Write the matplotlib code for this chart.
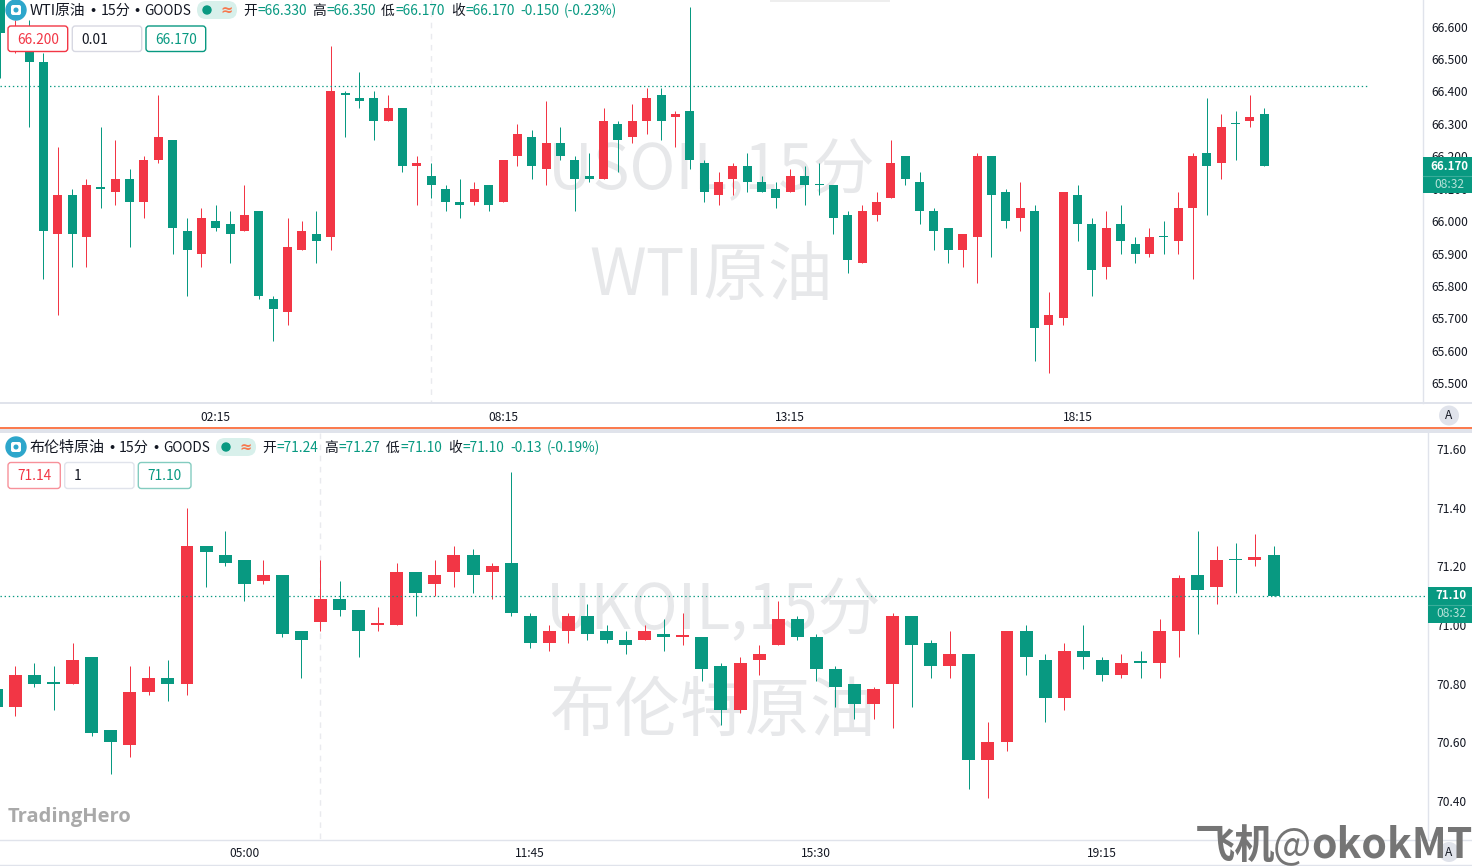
import matplotlib
matplotlib.use("Agg")
import matplotlib.pyplot as plt
import numpy as np
from matplotlib.patches import Circle, FancyBboxPatch, Rectangle

plt.rcParams['font.family'] = ['Noto Sans CJK SC', 'DejaVu Sans']

W, H = 1472, 866
UP = '#f23645'
DOWN = '#089981'
INK = '#131722'
LINE = '#e0e3eb'
MARK = '#e7e8ea'

# WTI 15 minute candles
wti_open = [66.72, 66.55, 66.56, 66.49, 65.96, 66.08, 65.95, 66.10, 66.09, 66.13,
            66.06, 66.19, 66.25, 65.97, 65.90, 66.00, 65.99, 65.97, 66.03, 65.76,
            65.72, 65.91, 65.96, 65.95, 66.39, 66.38, 66.38, 66.31, 66.35, 66.17,
            66.14, 66.10, 66.06, 66.06, 66.11, 66.06, 66.20, 66.26, 66.16, 66.24,
            66.19, 66.14, 66.13, 66.30, 66.26, 66.31, 66.39, 66.32, 66.34, 66.18,
            66.08, 66.13, 66.17, 66.12, 66.10, 66.09, 66.14, 66.11, 66.11, 66.02,
            65.87, 66.02, 66.07, 66.20, 66.12, 66.03, 65.98, 65.91, 65.95, 66.20,
            66.09, 66.01, 66.03, 65.68, 65.70, 66.08, 65.99, 65.86, 65.99, 65.93,
            65.90, 65.95, 65.94, 66.04, 66.21, 66.18, 66.30, 66.31, 66.33]
wti_high = [66.80, 66.62, 66.62, 66.52, 66.23, 66.10, 66.13, 66.29, 66.25, 66.16,
            66.20, 66.39, 66.25, 66.01, 66.04, 66.05, 66.03, 66.11, 66.03, 65.77,
            66.01, 66.00, 66.03, 66.54, 66.40, 66.46, 66.40, 66.39, 66.35, 66.20,
            66.18, 66.11, 66.13, 66.12, 66.11, 66.19, 66.30, 66.28, 66.37, 66.29,
            66.20, 66.21, 66.35, 66.31, 66.36, 66.41, 66.41, 66.34, 66.66, 66.19,
            66.15, 66.18, 66.21, 66.14, 66.12, 66.16, 66.17, 66.18, 66.11, 66.03,
            66.05, 66.09, 66.25, 66.20, 66.15, 66.04, 65.98, 65.96, 66.21, 66.20,
            66.10, 66.12, 66.05, 65.78, 66.09, 66.11, 66.01, 66.03, 66.05, 65.95,
            65.98, 66.00, 66.09, 66.21, 66.38, 66.33, 66.34, 66.39, 66.35]
wti_low = [66.44, 66.52, 66.29, 65.82, 65.71, 65.86, 65.86, 66.04, 66.05, 65.92,
           66.01, 66.18, 65.90, 65.77, 65.86, 65.97, 65.87, 65.97, 65.76, 65.63,
           65.68, 65.91, 65.87, 65.91, 66.26, 66.35, 66.25, 66.31, 66.15, 66.05,
           66.07, 66.03, 66.01, 66.05, 66.03, 66.06, 66.17, 66.13, 66.11, 66.19,
           66.03, 66.12, 66.13, 66.15, 66.24, 66.27, 66.25, 66.23, 66.16, 66.06,
           66.05, 66.08, 66.09, 66.09, 66.04, 66.09, 66.05, 66.08, 65.96, 65.84,
           65.87, 66.00, 66.07, 66.11, 65.99, 65.91, 65.87, 65.86, 65.81, 65.89,
           65.98, 65.97, 65.57, 65.53, 65.68, 65.94, 65.77, 65.82, 65.90, 65.87,
           65.89, 65.90, 65.90, 65.82, 66.02, 66.13, 66.19, 66.29, 66.17]
wti_close = [66.58, 66.58, 66.49, 65.97, 66.08, 65.96, 66.11, 66.10, 66.13, 66.06,
             66.19, 66.26, 65.98, 65.91, 66.01, 65.98, 65.96, 66.02, 65.77, 65.73,
             65.92, 65.97, 65.94, 66.40, 66.39, 66.37, 66.31, 66.35, 66.17, 66.18,
             66.11, 66.06, 66.05, 66.10, 66.05, 66.19, 66.27, 66.17, 66.24, 66.20,
             66.13, 66.13, 66.31, 66.25, 66.31, 66.38, 66.31, 66.33, 66.19, 66.09,
             66.12, 66.17, 66.12, 66.09, 66.07, 66.14, 66.11, 66.11, 66.01, 65.88,
             66.03, 66.06, 66.18, 66.13, 66.03, 65.97, 65.91, 65.96, 66.20, 66.08,
             66.00, 66.04, 65.67, 65.71, 66.09, 65.99, 65.85, 65.98, 65.94, 65.90,
             65.95, 65.95, 66.04, 66.20, 66.17, 66.29, 66.30, 66.32, 66.17]

# Brent 15 minute candles
brent_open = [70.78, 70.72, 70.83, 70.80, 70.80, 70.89, 70.64, 70.59, 70.77, 70.82,
              70.80, 71.27, 71.24, 71.22, 71.15, 71.17, 70.98, 71.01, 71.09, 71.05,
              71.00, 71.00, 71.18, 71.14, 71.18, 71.24, 71.18, 71.21, 71.03, 70.94,
              70.98, 71.03, 70.98, 70.95, 70.95, 70.97, 70.96, 70.96, 70.86, 70.71,
              70.88, 70.93, 71.02, 70.96, 70.85, 70.80, 70.73, 70.80, 71.03, 70.94,
              70.86, 70.90, 70.54, 70.60, 70.98, 70.88, 70.75, 70.91, 70.88, 70.83,
              70.87, 70.87, 70.98, 71.17, 71.13, 71.22, 71.22, 71.24]
brent_high = [70.82, 70.86, 70.87, 70.86, 70.94, 70.89, 70.64, 70.86, 70.86, 70.88,
              71.40, 71.27, 71.32, 71.22, 71.22, 71.17, 70.98, 71.22, 71.15, 71.05,
              71.06, 71.21, 71.18, 71.22, 71.27, 71.26, 71.21, 71.52, 71.04, 71.00,
              71.04, 71.07, 71.00, 70.98, 71.00, 71.02, 71.04, 70.96, 70.87, 70.89,
              70.93, 71.08, 71.03, 70.97, 70.86, 70.80, 70.79, 71.04, 71.03, 70.95,
              70.98, 70.90, 70.67, 70.98, 71.00, 70.90, 70.94, 71.00, 70.89, 70.90,
              70.91, 71.02, 71.17, 71.32, 71.27, 71.28, 71.31, 71.27]
brent_low = [70.70, 70.69, 70.79, 70.71, 70.80, 70.62, 70.49, 70.55, 70.76, 70.74,
             70.76, 71.13, 71.20, 71.08, 71.14, 70.96, 70.82, 70.98, 71.03, 70.89,
             70.98, 71.00, 71.03, 71.10, 71.13, 71.11, 71.09, 71.03, 70.92, 70.91,
             70.94, 70.95, 70.94, 70.90, 70.95, 70.91, 70.93, 70.81, 70.66, 70.70,
             70.83, 70.93, 70.95, 70.81, 70.72, 70.68, 70.68, 70.65, 70.72, 70.82,
             70.82, 70.44, 70.41, 70.57, 70.83, 70.67, 70.71, 70.85, 70.81, 70.82,
             70.82, 70.82, 70.89, 70.97, 71.07, 71.11, 71.20, 71.10]
brent_close = [70.72, 70.83, 70.80, 70.80, 70.88, 70.63, 70.60, 70.77, 70.82, 70.80,
               71.27, 71.25, 71.21, 71.14, 71.17, 70.97, 70.95, 71.09, 71.05, 70.98,
               71.00, 71.18, 71.11, 71.17, 71.24, 71.17, 71.20, 71.04, 70.94, 70.98,
               71.03, 70.97, 70.95, 70.93, 70.98, 70.96, 70.96, 70.85, 70.71, 70.87,
               70.90, 71.02, 70.96, 70.85, 70.79, 70.73, 70.78, 71.03, 70.93, 70.86,
               70.90, 70.54, 70.60, 70.98, 70.89, 70.75, 70.91, 70.89, 70.83, 70.87,
               70.87, 70.98, 71.16, 71.12, 71.22, 71.22, 71.23, 71.10]
brent_flat_up = [20, 36]  # open == close but drawn red

wti_ticks = [65.5, 65.6, 65.7, 65.8, 65.9, 66.0, 66.1, 66.2, 66.3, 66.4, 66.5, 66.6]
brent_ticks = [70.4, 70.6, 70.8, 71.0, 71.2, 71.4, 71.6]
wti_time_pos = [15, 35, 55, 75]
wti_time_labels = ['02:15', '08:15', '13:15', '18:15']
brent_time_pos = [13, 28, 43, 58]
brent_time_labels = ['05:00', '11:45', '15:30', '19:15']
wti_dotted = 66.416
brent_dotted = 71.10


def pane(x0, y0, x1, y1, zorder):
    ax = fig.add_axes([x0 / W, 1 - y1 / H, (x1 - x0) / W, (y1 - y0) / H], zorder=zorder)
    ax.patch.set_alpha(0)
    for s in ax.spines.values():
        s.set_visible(False)
    return ax


def candles(ax, o, h, l, c, width, min_px, flat_up=()):
    o, h, l, c = map(np.array, (o, h, l, c))
    x = np.arange(len(o))
    up = c > o
    up[list(flat_up)] = True
    colors = [UP if u else DOWN for u in up]
    ax.vlines(x, l, h, colors=colors, linewidth=0.72, zorder=2, snap=True)
    px = (ax.get_ylim()[1] - ax.get_ylim()[0]) / (ax.get_position().height * H)
    low = np.minimum(o, c)
    ax.bar(x, np.maximum(np.abs(c - o), min_px * px), bottom=low, width=width,
           color=colors, linewidth=0, zorder=3)


def box(ax, x0, y0, x1, y1, face, edge, r=3, lw=1.0, z=5):
    ax.add_patch(FancyBboxPatch((x0, y0), x1 - x0, y1 - y0,
                                boxstyle=f"round,pad=0,rounding_size={r}",
                                facecolor=face, edgecolor=edge, linewidth=lw, zorder=z))


def header(ax, yc, title, dots, pill_x, items):
    ax.add_patch(Circle((16, yc), 10, color='#2da6cb', zorder=6))
    box(ax, 11, yc - 5, 21, yc + 5, 'white', 'white', r=2, lw=0, z=7)
    ax.add_patch(Circle((16, yc), 1.8, color='#2da6cb', zorder=8))
    ty = yc + 1.2
    for x, txt, size in title:
        ax.text(x, ty, txt, fontsize=size, color=INK, va='center', ha='left', zorder=6)
    for x in dots:
        ax.text(x, ty, '·', fontsize=11, weight='bold', color=INK, va='center', ha='center', zorder=6)
    box(ax, pill_x, yc - 9, pill_x + 40, yc + 9, '#d8f0eb', 'none', r=9, lw=0, z=5)
    ax.add_patch(Circle((pill_x + 10, yc), 4, color=DOWN, zorder=6))
    ax.text(pill_x + 30, yc, '≈', fontsize=10.5, color='#f7784e', weight='bold',
            va='center', ha='center', zorder=6, family='DejaVu Sans')
    for x, lab, val in items:
        ax.text(x, ty, lab, fontsize=9.9, color=INK, va='center', ha='left', zorder=6)
        ax.text(x + 14 if lab else x, ty, val, fontsize=9.9, color=DOWN,
                va='center', ha='left', zorder=6)


def buttons(ax, y0, y1, spans, texts, edges):
    colors = [UP, INK, DOWN]
    ty = (y0 + y1) / 2 + 1
    for (a, b), t, e, col in zip(spans, texts, edges, colors):
        box(ax, a, y0, b, y1, 'white', e)
        if col == INK:
            ax.text(a + 9, ty, t, fontsize=9.9, color=col, va='center', ha='left', zorder=6)
        else:
            ax.text((a + b) / 2, ty, t, fontsize=9.9, color=col, va='center', ha='center', zorder=6)


fig = plt.figure(figsize=(W / 100, H / 100), dpi=100, facecolor='white')

# layers: watermarks under the candles, chrome over them
back = pane(0, 0, W, H, 0)
back.set_xlim(0, W)
back.set_ylim(H, 0)
back.axis('off')

back.text(711, 171, 'USOIL,15分', fontsize=44.5, color=MARK, ha='center', va='center')
back.text(711, 277, 'WTI原油', fontsize=46.5, color=MARK, ha='center', va='center')
back.text(714, 611, 'UKOIL,15分', fontsize=45.3, color=MARK, ha='center', va='center')
back.text(713, 713, '布伦特原油', fontsize=47, color=MARK, ha='center', va='center')
back.plot([431, 431], [0, 403], color='#e9eaee', lw=1, ls=(0, (4, 4)))
back.plot([320, 320], [433, 839], color='#e9eaee', lw=1, ls=(0, (4, 4)))

ax1 = pane(0, 0, 1423, 403, 1)
ax1.set_xlim(-0.3 / 14.364, (1423 - 0.3) / 14.364)
ax1.set_ylim(65.439, 66.682)
candles(ax1, wti_open, wti_high, wti_low, wti_close, 0.63, 1.2)
ax1.hlines(wti_dotted, ax1.get_xlim()[0], (1367 - 0.3) / 14.364, color=DOWN, lw=0.9,
           ls=(0, (1.1, 2.2)), zorder=4, snap=True)

ax2 = pane(0, 433, 1427.5, 839, 1)
ax2.set_xlim(3.7 / 19.07, (1427.5 + 3.7) / 19.07)
ax2.set_ylim(70.270, 71.6545)
candles(ax2, brent_open, brent_high, brent_low, brent_close, 0.68, 1.6, brent_flat_up)
ax2.hlines(brent_dotted, ax2.get_xlim()[0], ax2.get_xlim()[1], color=DOWN, lw=0.9,
           ls=(0, (1.1, 2.2)), zorder=4, snap=True)

for ax, ticks, fmt, pos, labs, pad in [
        (ax1, wti_ticks, '%.3f', wti_time_pos, wti_time_labels, 5.8),
        (ax2, brent_ticks, '%.2f', brent_time_pos, brent_time_labels, 6.2)]:
    ax.yaxis.tick_right()
    ax.set_yticks(ticks)
    ax.set_yticklabels([fmt % t for t in ticks])
    ax.set_xticks(pos)
    ax.set_xticklabels(labs)
    ax.tick_params(axis='y', length=0, pad=pad, labelsize=8.64, labelcolor=INK)
    ax.tick_params(axis='x', length=0, pad=5.8, labelsize=8.64, labelcolor=INK)

front = pane(0, 0, W, H, 3)
front.set_xlim(0, W)
front.set_ylim(H, 0)
front.axis('off')

# frame lines
front.plot([0, W], [403, 403], color=LINE, lw=1.4, zorder=1)
front.plot([1423, 1423], [0, 403], color=LINE, lw=1, zorder=1)
front.add_patch(Rectangle((0, 428), W, 5, color=LINE, lw=0, zorder=1))
front.add_patch(Rectangle((0, 426.6), W, 2, color='#fb7b4f', lw=0, zorder=2))
front.plot([1427.5, 1427.5], [433, 839], color=LINE, lw=1, zorder=1)
front.plot([0, W], [839.5, 839.5], color=LINE, lw=1, zorder=1)
front.plot([0, W], [865, 865], color=LINE, lw=1, zorder=1)
front.add_patch(Rectangle((770, 0), 120, 2, color='#eeeeee', lw=0, zorder=1))

header(front, 10,
       [(30, 'WTI原油', 10.6), (100.5, '15分', 10.2), (144, 'GOODS', 9.8)],
       [92.7, 136.7], 197,
       [(243, '开', '=66.330'), (312, '高', '=66.350'), (381, '低', '=66.170'),
        (451, '收', '=66.170'), (520, '', '-0.150'), (564, '', '(-0.23%)')])
header(front, 447,
       [(30, '布伦特原油', 10.8), (119, '15分', 10.2), (163, 'GOODS', 9.8)],
       [111.7, 156], 216,
       [(262, '开', '=71.24'), (324, '高', '=71.27'), (386, '低', '=71.10'),
        (448, '收', '=71.10'), (510, '', '-0.13'), (547, '', '(-0.19%)')])

buttons(front, 26, 51.5, [(8, 67.7), (72.3, 141.7), (146, 205.7)],
        ['66.200', '0.01', '66.170'], [UP, '#d7d8e2', DOWN])
buttons(front, 462.5, 488.5, [(8, 60.3), (64.7, 134), (138.3, 191)],
        ['71.14', '1', '71.10'], ['#f7919a', LINE, '#84ccc0'])

# last price badges
front.add_patch(Rectangle((1423, 157), W - 1423, 36, color=DOWN, lw=0, zorder=5))
front.plot([1423, W], [175.5, 175.5], color='#3aad9a', lw=0.8, zorder=6)
front.text(1449, 166, '66.170', fontsize=8.3, color='white', weight='bold', ha='center', va='center', zorder=7)
front.text(1449, 184, '08:32', fontsize=8.64, color='#b5e2d9', ha='center', va='center', zorder=7)
front.add_patch(Rectangle((1427.5, 586.5), W - 1427.5, 36, color=DOWN, lw=0, zorder=5))
front.plot([1427.5, W], [605, 605], color='#3aad9a', lw=0.8, zorder=6)
front.text(1451, 595.5, '71.10', fontsize=8.3, color='white', weight='bold', ha='center', va='center', zorder=7)
front.text(1451, 613.5, '08:32', fontsize=8.64, color='#b5e2d9', ha='center', va='center', zorder=7)

# auto scale buttons
for yc in (415.5, 852):
    front.add_patch(Circle((1449, yc), 10, color=LINE, lw=0, zorder=5))
    front.text(1449, yc, 'A', fontsize=8.64, color=INK, ha='center', va='center', zorder=9)

# screenshot marks
front.text(8, 817, 'TradingHero', fontsize=14.5, color='#a9a9a9', weight='bold', family='Open Sans',
           ha='left', va='center', zorder=6)
front.text(1195, 846, '飞机', fontsize=29, color='#757575', weight='bold', ha='left', va='center', zorder=8)
front.text(1273, 846, '@', fontsize=29, color='#757575', ha='left', va='center', zorder=8)
front.text(1311, 846, 'okokMT', fontsize=29.5, color='#757575', weight='bold', ha='left', va='center', zorder=8)

fig.savefig('out.png', dpi=100, facecolor='white')
